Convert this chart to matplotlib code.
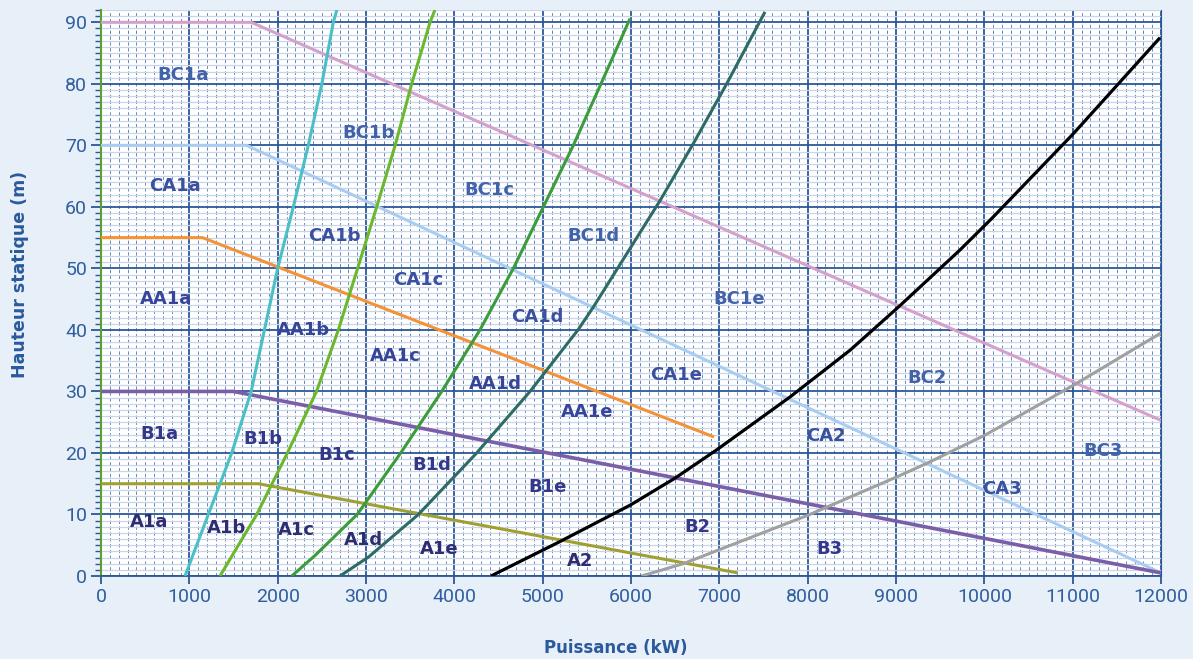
import matplotlib
matplotlib.use("Agg")
import matplotlib.pyplot as plt
from matplotlib.ticker import MultipleLocator

# ---------------- data ----------------
# falling boundary lines (Hauteur statique vs Puissance)
bc1_x = [0, 1700, 12000]
bc1_y = [90, 90, 25.3]
ca1_x = [0, 1650, 12000]
ca1_y = [70, 70, 0.5]
aa1_x = [0, 1150, 6940]
aa1_y = [55, 55, 22.6]
b1_x = [0, 1500, 12000]
b1_y = [30, 30, 0.5]
a1_x = [0, 1780, 7210]
a1_y = [15, 15, 0.5]

# rising boundary curves
cyan_x = [951, 1215, 1480, 1700, 1850, 2000, 2177, 2347, 2500, 2630, 2670]
cyan_y = [0, 10, 20, 30, 40, 50, 60, 70, 80, 90, 92]
lgreen_x = [1347, 1763, 2110, 2440, 2687, 2905, 3121, 3330, 3517, 3725, 3780]
lgreen_y = [0, 10, 20, 30, 40, 50, 60, 70, 80, 90, 92]
mgreen_x = [2160, 2420, 2900, 3393, 3857, 4290, 4668, 5008, 5347, 5660, 5970, 5990]
mgreen_y = [0, 3.3, 10, 20, 30, 40, 50, 60, 70, 80, 90, 90.6]
teal_x = [2706, 3030, 3593, 4253, 4857, 5400, 5573, 6328, 6706, 7083, 7517]
teal_y = [0, 3.1, 10, 20, 30, 40, 43.7, 61, 70.3, 80, 91.7]
black_x = [4415, 5196, 5989, 6498, 6970, 7800, 8480, 9026, 9725, 10083, 11008, 11989]
black_y = [0, 5.6, 11.5, 15.9, 20.5, 29.1, 36.7, 43.7, 53, 58.1, 71.9, 87.5]
gray_x = [6120, 6592, 8007, 9008, 9347, 10008, 11008, 12000]
gray_y = [0, 2.0, 9.9, 16.1, 18.3, 22.9, 31, 39.5]

# zone labels
zone_names = ["BC1a", "BC1b", "BC1c", "BC1d", "BC1e", "BC2", "BC3",
              "CA1a", "CA1b", "CA1c", "CA1d", "CA1e", "CA2", "CA3",
              "AA1a", "AA1b", "AA1c", "AA1d", "AA1e",
              "B1a", "B1b", "B1c", "B1d", "B1e", "B2", "B3",
              "A1a", "A1b", "A1c", "A1d", "A1e", "A2"]
zone_x = [928, 3023, 4393, 5570, 7223, 9351, 11344,
          838, 2638, 3589, 4936, 6510, 8208, 10200,
          736, 2287, 3328, 4460, 5502,
          657, 1834, 2672, 3747, 5060, 6747, 8242,
          543, 1426, 2208, 2966, 3826, 5423]
zone_y = [81.4, 72, 62.7, 55.2, 45, 32.2, 20.3,
          63.4, 55.2, 48.1, 42.1, 32.7, 22.7, 14.1,
          45, 40, 35.7, 31.2, 26.6,
          23.1, 22.3, 19.7, 18, 14.5, 8, 4.4,
          8.8, 7.8, 7.5, 5.8, 4.4, 2.4]

x_ticks = list(range(0, 12001, 1000))
y_ticks = list(range(0, 91, 10))

# ---------------- style ----------------
BG = "#e7eff9"
GRID = "#2b5797"
TXT = "#2f5f9e"
group_colors = {"BC": "#4262aa", "CA": "#3a50a0", "AA": "#36459a",
                "B": "#34388a", "A": "#2e2d72"}

fig = plt.figure(figsize=(11.93, 6.59), dpi=100, facecolor=BG)
ax = fig.add_axes([101 / 1193, 1 - 576 / 659, 1060 / 1193, 566 / 659])
ax.set_facecolor("white")
ax.set_xlim(0, 12000)
ax.set_ylim(0, 92)

# grid
ax.xaxis.set_major_locator(MultipleLocator(1000))
ax.xaxis.set_minor_locator(MultipleLocator(100))
ax.yaxis.set_major_locator(MultipleLocator(10))
ax.yaxis.set_minor_locator(MultipleLocator(1))
ax.set_axisbelow(True)
ax.grid(which="minor", axis="y", color="#c9d6ea", lw=0.9, ls="-")
ax.grid(which="minor", axis="x", color=GRID, lw=0.7, ls=(0, (3.5, 2.5)), alpha=0.7)
ax.grid(which="major", axis="both", color=GRID, lw=1.3, ls="-")

ax.spines["top"].set_visible(False)
ax.spines["right"].set_color(GRID)
ax.spines["bottom"].set_color(GRID)
ax.spines["bottom"].set_linewidth(1.3)
ax.spines["left"].set_color("#5aa02c")
ax.spines["left"].set_linewidth(1.5)

ax.set_xticks(x_ticks)
ax.set_yticks(y_ticks)
ax.tick_params(axis="both", which="major", colors=GRID, labelcolor=TXT,
               labelsize=14, direction="out")
ax.tick_params(axis="y", which="major", length=7, width=1.3, pad=3)
ax.tick_params(axis="y", which="minor", length=4, width=1.0, colors=GRID)
ax.tick_params(axis="x", which="major", length=6, width=1.3, pad=3)
ax.tick_params(axis="x", which="minor", length=0)
for lab in ax.get_xticklabels() + ax.get_yticklabels():
    lab.set_fontfamily("Roboto")

# lines
def draw(x, y, c, lw=2.2):
    ax.plot(x, y, color=c, lw=lw, solid_capstyle="butt", solid_joinstyle="round",
            zorder=3, clip_on=True)

draw(bc1_x, bc1_y, "#d4a0cc")
draw(ca1_x, ca1_y, "#a9cdf0")
draw(aa1_x, aa1_y, "#f39237")
draw(b1_x, b1_y, "#7a5ea8", 2.6)
draw(a1_x, a1_y, "#a0a032")
draw(cyan_x, cyan_y, "#4bbfc6")
draw(lgreen_x, lgreen_y, "#6cb82c")
draw(mgreen_x, mgreen_y, "#3a9c3a")
draw(teal_x, teal_y, "#2f6b66")
draw(gray_x, gray_y, "#a0a0a0")
draw(black_x, black_y, "#000000", 2.3)

for name, x, y in zip(zone_names, zone_x, zone_y):
    grp = name[:2] if name[:2] in ("BC", "CA", "AA") else name[0]
    ax.text(x, y, name, color=group_colors[grp], fontsize=13, fontweight="bold",
            family="DejaVu Sans", ha="center", va="center", zorder=4)

fig.text(20 / 1193, 1 - 274 / 659, "Hauteur statique (m)", rotation=90,
         ha="center", va="center", fontsize=12.5, fontweight="bold",
         color="#2a5a9c", family="DejaVu Sans")
fig.text(616 / 1193, 1 - 648 / 659, "Puissance (kW)", ha="center", va="center",
         fontsize=12, fontweight="bold", color="#2a5a9c", family="DejaVu Sans")

fig.savefig("out.png", dpi=100, facecolor=BG)
